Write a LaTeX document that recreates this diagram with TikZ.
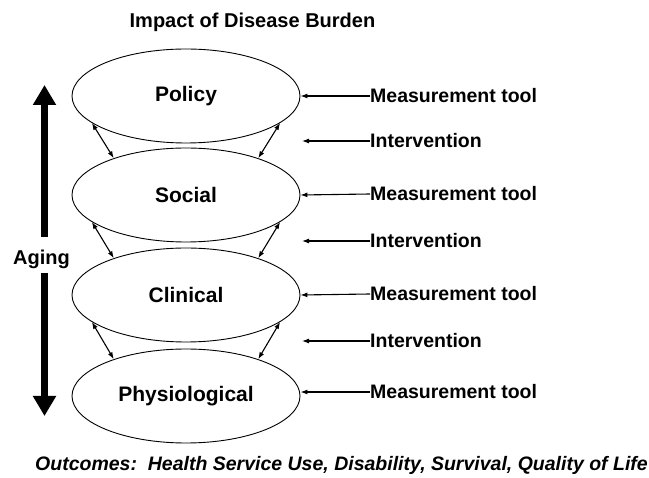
\documentclass[tikz,border=0pt]{standalone}
\usepackage{fontspec}
\setmainfont{Liberation Sans}
\usetikzlibrary{arrows.meta,shapes.geometric}
\begin{document}
\begin{tikzpicture}[x=1pt,y=-1pt,
  level/.style={ellipse,draw,line width=0.9pt,minimum width=228pt,minimum height=94pt,inner sep=0pt,
    font=\fontsize{21}{25}\selectfont\bfseries},
  rlabel/.style={anchor=west,inner sep=0pt,font=\fontsize{19.5}{23}\selectfont\bfseries},
  thin/.style={line width=1.1pt,-{Latex[length=7pt,width=5pt]}},
  dbl/.style={line width=1.1pt,{Latex[length=7pt,width=5pt]}-{Latex[length=7pt,width=5pt]}},
  bigarrow/.style={line width=7.5pt,-{Triangle[width=22pt,length=20pt]}}]
\useasboundingbox (0,0) rectangle (649,478);
\node[font=\fontsize{20}{24}\selectfont\bfseries,inner sep=0pt] (title) at (252.5,22) {Impact of Disease Burden};
\node[level] (pol) at (186,96) {\raisebox{-2pt}{Policy}};
\node[level] (soc) at (186,195) {Social};
\node[level] (cli) at (186,295) {Clinical};
\node[level] (phy) at (186,396) {\raisebox{-1pt}{Physiological}};
\draw[dbl] (pol.196) -- (soc.153);
\draw[dbl] (pol.-16) -- (soc.27);
\draw[dbl] (soc.196) -- (cli.153);
\draw[dbl] (soc.-16) -- (cli.27);
\draw[dbl] (cli.196) -- (phy.153);
\draw[dbl] (cli.-16) -- (phy.27);
\node[rlabel] (m1) at (370,96) {Measurement tool};
\node[rlabel] (i1) at (370,141) {Intervention};
\node[rlabel] (m2) at (370,194) {Measurement tool};
\node[rlabel] (i2) at (370,241) {Intervention};
\node[rlabel] (m3) at (370,294) {Measurement tool};
\node[rlabel] (i3) at (370,341) {Intervention};
\node[rlabel] (m4) at (370,392) {Measurement tool};
\coordinate (t1) at (302,141);
\coordinate (t2) at (302,241);
\coordinate (t3) at (302,341);
\draw[thin] (m1.west) -- (pol.east);
\draw[thin] (i1.west) -- (t1);
\draw[thin] (m2.west) -- (soc.east);
\draw[thin] (i2.west) -- (t2);
\draw[thin] (m3.west) -- (cli.east);
\draw[thin] (i3.west) -- (t3);
\draw[thin] (m4.west) -- (phy.east |- m4.west);
\node[font=\fontsize{20}{24}\selectfont\bfseries,inner sep=0pt] (aging) at (41.5,259) {Aging};
\coordinate (upbase) at (44.5,237);
\coordinate (uptip) at (44.5,85);
\coordinate (downbase) at (44.5,273);
\coordinate (downtip) at (44.5,416);
\draw[bigarrow] (upbase) -- (uptip);
\draw[bigarrow] (downbase) -- (downtip);
\node[font=\fontsize{19.5}{23}\selectfont\bfseries\itshape,inner sep=0pt] (out) at (341.5,465) {Outcomes:\ \ Health Service Use, Disability, Survival, Quality of Life};
\end{tikzpicture}
\end{document}
